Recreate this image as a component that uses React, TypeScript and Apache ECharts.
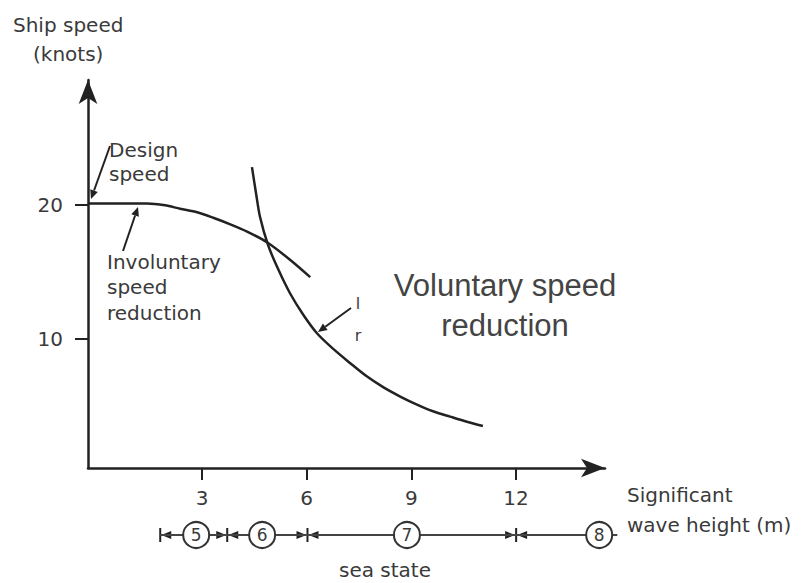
import React, { useEffect, useRef } from "react";
import * as echarts from "echarts";

// Involuntary speed reduction curve (wave height m, speed knots)
const invX = [-0.27, 0.65, 1.42, 1.94, 2.37, 2.86, 3.32, 3.81, 4.29, 4.86, 5.52, 6.1];
const invY = [20.1, 20.1, 20.1, 19.96, 19.7, 19.44, 19.03, 18.54, 18.0, 17.2, 15.9, 14.6];
// Voluntary speed reduction limit curve
const volX = [4.43, 4.55, 4.66, 4.89, 5.18, 5.52, 5.9, 6.3, 6.76, 7.24, 7.7, 8.19, 8.68, 9.16, 9.62, 10.11, 10.59, 11.05];
const volY = [22.8, 20.8, 19.1, 17.0, 15.2, 13.4, 11.8, 10.4, 9.25, 8.2, 7.24, 6.4, 5.7, 5.1, 4.6, 4.2, 3.82, 3.5];
// Axis ticks
const xTicks = [3, 6, 9, 12];
const yTicks = [10, 20];
// Sea state scale
const seaStates = ["5", "6", "7", "8"];
const seaStateCentres = [2.83, 4.72, 8.87, 14.38];
const seaStateBounds = [1.8, 3.72, 6.02, 12.0];
const boundBothSides = [false, true, true, true];
const seaLineRange = [1.8, 14.9];

const INK = "#222";
const TXT = "#3a3a3a";
const FONT = '"DejaVu Sans", sans-serif';

function arrow(x1: number, y1: number, x2: number, y2: number) {
  const a = Math.atan2(y2 - y1, x2 - x1);
  const L = 9;
  const W = 4;
  const bx = x2 - L * Math.cos(a);
  const by = y2 - L * Math.sin(a);
  const px = -Math.sin(a) * W;
  const py = Math.cos(a) * W;
  return [
    { type: "line", shape: { x1, y1, x2: bx, y2: by }, style: { stroke: INK, lineWidth: 2 } },
    {
      type: "polygon",
      shape: { points: [[x2, y2], [bx + px, by + py], [bx - px, by - py]] },
      style: { fill: INK },
    },
  ];
}

function txt(text: string, x: number, y: number, size = 20, align = "left", color = TXT, family = FONT) {
  return {
    type: "text",
    style: {
      text,
      x,
      y,
      fill: color,
      fontSize: size,
      fontFamily: family,
      textAlign: align,
      textVerticalAlign: "middle",
    },
  };
}

export default function App() {
  const ref = useRef<HTMLDivElement>(null);
  useEffect(() => {
    if (!ref.current) return;
    const chart = echarts.init(ref.current, null, { renderer: "svg" });
    const axisLineStyle = { color: INK, width: 2.5 };
    const option: any = {
      animation: false,
      backgroundColor: "#fff",
      grid: [
        { left: 88, right: 207, top: 80, bottom: 115 },
        { left: 88, width: 552, top: 525, height: 20 },
      ],
      xAxis: [
        {
          type: "value",
          gridIndex: 0,
          min: -0.27,
          max: 14.55,
          splitLine: { show: false },
          axisLine: {
            show: true,
            onZero: false,
            lineStyle: axisLineStyle,
            symbol: ["none", "arrow"],
            symbolSize: [14, 24],
          },
          axisTick: { show: true, length: 12, customValues: xTicks, lineStyle: { color: INK, width: 2 } },
          axisLabel: { customValues: xTicks, fontSize: 20, fontFamily: FONT, color: TXT, margin: 20 },
        },
        { type: "value", gridIndex: 1, min: -0.27, max: 15.55, show: false },
      ],
      yAxis: [
        {
          type: "value",
          gridIndex: 0,
          min: 0.37,
          max: 29.3,
          splitLine: { show: false },
          axisLine: {
            show: true,
            onZero: false,
            lineStyle: axisLineStyle,
            symbol: ["none", "arrow"],
            symbolSize: [14, 24],
          },
          axisTick: { show: true, length: 13, customValues: yTicks, lineStyle: { color: INK, width: 2 } },
          axisLabel: { customValues: yTicks, fontSize: 20, fontFamily: FONT, color: TXT, margin: 25 },
        },
        { type: "value", gridIndex: 1, min: -1, max: 1, show: false },
      ],
      series: [
        {
          type: "line",
          name: "Involuntary",
          xAxisIndex: 0,
          yAxisIndex: 0,
          data: invX.map((x, i) => [x, invY[i]]),
          smooth: 0.3,
          showSymbol: false,
          lineStyle: { color: INK, width: 2.5 },
        },
        {
          type: "line",
          name: "Voluntary",
          xAxisIndex: 0,
          yAxisIndex: 0,
          data: volX.map((x, i) => [x, volY[i]]),
          smooth: 0.3,
          showSymbol: false,
          lineStyle: { color: INK, width: 2.5 },
        },
        {
          type: "line",
          xAxisIndex: 1,
          yAxisIndex: 1,
          data: seaLineRange.map((x) => [x, 0]),
          showSymbol: false,
          clip: false,
          lineStyle: { color: "#444", width: 1.8 },
        },
        {
          type: "custom",
          xAxisIndex: 1,
          yAxisIndex: 1,
          clip: false,
          data: seaStateBounds.map((x) => [x, 0]),
          renderItem: (params: any, api: any) => {
            const p = api.coord([api.value(0), api.value(1)]);
            const both = boundBothSides[params.dataIndex];
            const children: any[] = [
              {
                type: "line",
                shape: { x1: p[0], y1: p[1] - 7, x2: p[0], y2: p[1] + 7 },
                style: { stroke: INK, lineWidth: 2 },
              },
              {
                type: "polygon",
                shape: { points: [[p[0] + 1, p[1]], [p[0] + 11, p[1] - 4], [p[0] + 11, p[1] + 4]] },
                style: { fill: INK },
              },
            ];
            if (both) {
              children.push({
                type: "polygon",
                shape: { points: [[p[0] - 1, p[1]], [p[0] - 11, p[1] - 4], [p[0] - 11, p[1] + 4]] },
                style: { fill: INK },
              });
            }
            return { type: "group", children };
          },
        },
        {
          type: "scatter",
          xAxisIndex: 1,
          yAxisIndex: 1,
          clip: false,
          data: seaStateCentres.map((x) => [x, 0]),
          symbol: "circle",
          symbolSize: 26,
          itemStyle: { color: "#fff", borderColor: "#333", borderWidth: 2, opacity: 1 },
          label: {
            show: true,
            position: "inside",
            formatter: (p: any) => seaStates[p.dataIndex],
            fontSize: 17,
            fontFamily: FONT,
            color: TXT,
          },
          z: 5,
        },
      ],
      graphic: [
        txt("Ship speed", 13, 25),
        txt("(knots)", 33, 54),
        txt("Design", 109, 150),
        txt("speed", 109, 174),
        txt("Involuntary", 107, 262),
        txt("speed", 107, 287),
        txt("reduction", 107, 313),
        txt("Voluntary speed", 505, 285, 31, "center", "#444", '"Liberation Sans", Arial, sans-serif'),
        txt("reduction", 505, 325, 31, "center", "#444", '"Liberation Sans", Arial, sans-serif'),
        txt("l", 358, 303, 16, "center"),
        txt("r", 358, 335, 16, "center"),
        txt("Significant", 627, 495),
        txt("wave height (m)", 627, 525),
        txt("sea state", 385, 570, 20, "center"),
        ...arrow(110, 146, 91, 199),
        ...arrow(123, 251, 138, 207),
        ...arrow(351, 308, 318, 332),
      ],
    };
    chart.setOption(option);
    return () => chart.dispose();
  }, []);
  return (
    <div
      ref={ref}
      style={{ position: "fixed", left: 0, top: 0, width: 812, height: 583, background: "#fff" }}
    />
  );
}
